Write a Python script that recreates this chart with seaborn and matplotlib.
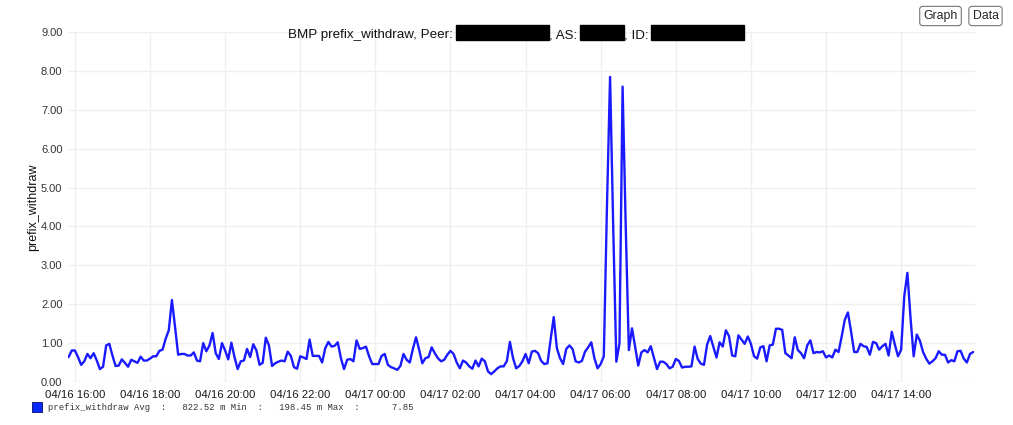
import pandas as pd
import numpy as np
import matplotlib.pyplot as plt
import matplotlib.dates as mdates
from matplotlib.patches import Rectangle
import seaborn as sns

# 5 minute samples, 04/16 15:50 -> 04/17 15:55
start = "2024-04-16 15:50"
prefix_withdraw = [
    0.63, 0.80, 0.80, 0.63, 0.43, 0.52, 0.71, 0.60, 0.73, 0.54,
    0.32, 0.38, 0.93, 0.97, 0.67, 0.40, 0.41, 0.57, 0.48, 0.38,
    0.56, 0.52, 0.48, 0.64, 0.54, 0.54, 0.59, 0.65, 0.65, 0.79,
    0.82, 1.10, 1.32, 2.10, 1.41, 0.69, 0.71, 0.71, 0.67, 0.67,
    0.75, 0.54, 0.52, 0.99, 0.78, 0.93, 1.25, 0.73, 0.58, 0.99,
    0.80, 0.57, 1.00, 0.63, 0.32, 0.52, 0.54, 0.84, 0.63, 0.96,
    0.80, 0.43, 0.48, 1.13, 0.93, 0.40, 0.47, 0.51, 0.54, 0.52,
    0.77, 0.66,
    0.37, 0.33, 0.65, 0.62, 0.58, 1.08, 0.66, 0.66, 0.66, 0.49,
    0.86, 1.02, 0.90, 0.92, 1.01, 0.60, 0.32, 0.56, 0.58, 0.52,
    1.06, 0.84, 0.86, 0.90, 0.65, 0.45, 0.45, 0.45, 0.66, 0.71,
    0.43, 0.37, 0.34, 0.30, 0.40, 0.71, 0.56, 0.49, 0.84, 1.14,
    0.82, 0.47, 0.60, 0.63, 0.88, 0.73, 0.60, 0.52, 0.56, 0.69,
    0.79, 0.71, 0.49, 0.34, 0.54, 0.49, 0.39, 0.33, 0.54, 0.39,
    0.59, 0.52, 0.26, 0.19, 0.26, 0.34, 0.39, 0.39, 0.52, 1.02,
    0.60,
    0.34, 0.40, 0.52, 0.71, 0.47, 0.77, 0.79, 0.73, 0.53, 0.45,
    0.47, 1.08, 1.66, 0.86, 0.60, 0.45, 0.84, 0.93, 0.84, 0.52,
    0.49, 0.53, 0.77, 0.88, 1.01, 0.60, 0.34, 0.45, 0.65,
    4.50, 7.85, 4.00, 0.51, 0.98, 7.60, 4.00, 0.81, 1.37, 0.90,
    0.41, 0.75, 0.81, 0.75, 0.91, 0.61, 0.32, 0.51, 0.51, 0.45,
    0.34, 0.38, 0.58, 0.53, 0.36, 0.38, 0.38, 0.39, 0.90, 0.58,
    0.46,
    0.43, 0.95, 1.17, 0.90, 0.62, 1.01, 0.90, 1.32, 1.17, 0.67,
    0.65, 1.19, 1.08,
    0.97, 1.16, 0.97, 0.65, 0.59, 0.88, 0.91, 0.52, 0.93, 0.95,
    1.36, 1.36, 1.33, 0.73, 0.67, 0.60, 1.14, 0.81, 0.73, 0.60,
    0.93, 1.06, 0.73, 0.76, 0.75, 0.78, 0.62, 0.67, 0.62, 0.82,
    0.76, 1.16, 1.59, 1.78, 1.29, 0.76, 0.76, 0.97, 0.91, 0.89,
    0.69, 1.02, 0.99, 0.82, 0.91, 0.97, 0.67, 1.28, 0.95, 0.65,
    0.82, 2.20, 2.80, 1.64, 0.65, 1.21, 1.05, 0.76, 0.59, 0.46,
    0.52, 0.60, 0.78, 0.69, 0.69, 0.49, 0.55, 0.52, 0.78, 0.79,
    0.59, 0.49, 0.71, 0.76,
]
times = pd.date_range(start, periods=len(prefix_withdraw), freq="5min")
y_ticks = [0, 1, 2, 3, 4, 5, 6, 7, 8, 9]
legend_text = "prefix_withdraw Avg  :   822.52 m Min  :   198.45 m Max  :      7.85"

df = pd.DataFrame({"time": times, "prefix_withdraw": prefix_withdraw})

sns.set_theme(style="white")
plt.rcParams["font.family"] = ["Liberation Sans", "DejaVu Sans"]

W, H = 1013, 425
fig = plt.figure(figsize=(W / 100, H / 100), dpi=100)
ax = fig.add_axes([68 / W, 1 - 381.5 / H, (975 - 68) / W, (381.5 - 32.3) / H])

sns.lineplot(data=df, x="time", y="prefix_withdraw", ax=ax, color="#1a1aff", linewidth=1.7)

ax.set_ylim(0, 9)
ax.set_yticks(y_ticks)
ax.yaxis.set_major_formatter(plt.FormatStrFormatter("%.2f"))
ax.set_xlim(pd.Timestamp("2024-04-16 15:49"), pd.Timestamp("2024-04-17 15:58"))
ax.xaxis.set_major_locator(mdates.HourLocator(byhour=range(0, 24, 2)))
ax.xaxis.set_major_formatter(mdates.DateFormatter("%m/%d %H:%M"))

ax.grid(True, color="#efefef", linewidth=1)
for s in ax.spines.values():
    s.set_visible(False)
ax.tick_params(axis="y", length=0, pad=4, labelsize=8, labelcolor="#333333")
ax.tick_params(axis="x", length=0, pad=6, labelsize=8.2, labelcolor="#1a1a1a")
ax.set_xlabel("")
ax.set_ylabel("prefix_withdraw", fontsize=9, color="#111111", labelpad=1)

# title with redacted parts
tk = dict(fontsize=9.6, color="#111111", va="baseline", ha="left")
fig.text(288 / W, 1 - 38 / H, "BMP prefix_withdraw, Peer:", **tk)
fig.text(549 / W, 1 - 38 / H, ", AS:", **tk)
fig.text(624 / W, 1 - 38 / H, ", ID:", **tk)
for x0, x1 in [(455.7, 549), (580, 624), (650.5, 744)]:
    fig.add_artist(Rectangle((x0 / W, 1 - 40 / H), (x1 - x0) / W, 15 / H,
                             transform=fig.transFigure, color="black"))

# Graph / Data buttons
bk = dict(boxstyle="round,pad=0.3,rounding_size=0.25", fc="white", ec="#777777", lw=0.8)
fig.text(940.5 / W, 1 - 16 / H, "Graph", fontsize=8.8, ha="center", va="center", bbox=bk)
fig.text(985.5 / W, 1 - 16 / H, "Data", fontsize=8.8, ha="center", va="center", bbox=bk)

# legend line at the bottom
fig.add_artist(Rectangle((32 / W, 1 - 412 / H), 10 / W, 10 / H, transform=fig.transFigure,
                         fc="#0a2bff", ec="#0a0a60", lw=0.6))
fig.text(48 / W, 1 - 407.5 / H, legend_text, fontsize=6.4, family="Liberation Mono",
         color="#333333", ha="left", va="center")

fig.savefig("out.png", dpi=100)
